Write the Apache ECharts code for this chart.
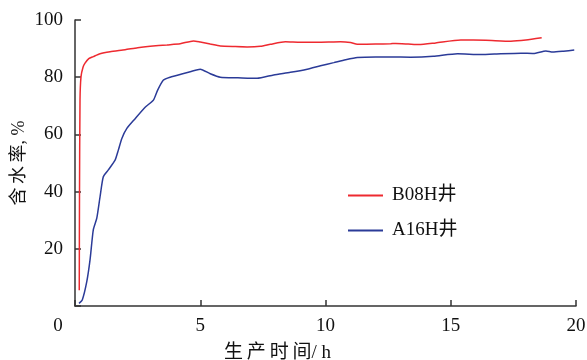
<!DOCTYPE html>
<html>
<head>
<meta charset="utf-8">
<script src="https://cdn.jsdelivr.net/npm/echarts@6/dist/echarts.min.js"></script>
<style>
  html, body { margin: 0; padding: 0; background: #fff; }
  #chart { width: 587px; height: 360px; }
</style>
</head>
<body>
<div id="chart"></div>
<script>
// Water cut vs production time for two wells
const seriesNames = ['B08H井', 'A16H井'];

const b08hTime = [0.17, 0.18, 0.2, 0.24, 0.32, 0.4, 0.55, 0.73, 1.0, 1.4, 2.0, 2.5, 3.0, 3.67, 4.2, 4.73, 5.0, 5.4, 5.8, 6.4, 6.87, 7.4, 7.8, 8.4, 9.0, 9.67, 10.2, 10.6, 11.0, 11.27, 12.0, 12.6, 12.8, 13.3, 13.73, 14.4, 15.4, 16.4, 17.4, 18.0, 18.63];
const b08hCut = [5.5, 40, 72, 80.2, 83.5, 84.9, 86.5, 87.2, 88.2, 88.9, 89.6, 90.3, 90.8, 91.3, 91.7, 92.7, 92.3, 91.6, 90.9, 90.7, 90.6, 90.8, 91.5, 92.4, 92.2, 92.2, 92.3, 92.4, 92.1, 91.5, 91.6, 91.7, 91.8, 91.6, 91.4, 92.0, 93.0, 92.9, 92.6, 93.0, 93.8];

const a16hTime = [0.16, 0.29, 0.47, 0.6, 0.73, 0.87, 1.0, 1.13, 1.33, 1.6, 1.73, 1.87, 2.07, 2.4, 2.8, 3.13, 3.3, 3.53, 3.8, 4.3, 4.6, 5.0, 5.4, 5.8, 6.5, 7.27, 7.93, 8.6, 9.27, 9.8, 10.33, 10.8, 11.27, 12.0, 12.6, 13.4, 14.3, 15.27, 16.2, 17.0, 17.8, 18.3, 18.8, 19.07, 19.5, 19.93];
const a16hCut = [0.9, 2.1, 8.5, 16.1, 26.6, 30.7, 38.2, 45.2, 47.6, 51.0, 54.5, 58.6, 62.1, 65.5, 69.5, 72.0, 75.5, 79.0, 80.0, 81.2, 81.9, 82.8, 81.2, 80.0, 79.8, 79.6, 80.8, 81.7, 82.8, 84.0, 85.1, 86.1, 86.9, 87.1, 87.1, 87.0, 87.3, 88.2, 87.9, 88.2, 88.4, 88.3, 89.2, 88.8, 89.1, 89.5];

const xTicks = [0, 5, 10, 15, 20];
const yTicks = [0, 20, 40, 60, 80, 100];

// axis titles, spaced out with thin spaces
const xTitle = '生\u2009产\u2009时\u2009间/ h';
const yTitle = '含\u2009水\u2009率, %';

const serif = '"Liberation Serif", "Times New Roman", "Noto Sans CJK SC", serif';
const axisColor = '#333';
const textColor = '#111';

function pairs(xs, ys) {
  return xs.map((x, i) => [x, ys[i]]);
}

const chart = echarts.init(document.getElementById('chart'), null, { renderer: 'canvas' });

chart.setOption({
  animation: false,
  backgroundColor: '#fff',
  grid: { left: 75, right: 11, top: 20, bottom: 54, containLabel: false, outerBoundsMode: 'none' },
  legend: {
    orient: 'vertical',
    left: 343,
    top: 181,
    itemWidth: 35,
    itemHeight: 2,
    itemGap: 16,
    icon: 'rect',
    textStyle: { fontFamily: serif, fontSize: 19, color: textColor, padding: [0, 0, 0, 4] },
    data: seriesNames
  },
  xAxis: {
    type: 'value',
    min: xTicks[0],
    max: xTicks[xTicks.length - 1],
    interval: 5,
    name: xTitle,
    nameLocation: 'middle',
    nameMoveOverlap: false,
    nameGap: 38,
    nameTextStyle: { fontFamily: serif, fontSize: 19, color: textColor, padding: [0, 96, 0, 0] },
    splitLine: { show: false },
    axisLine: { lineStyle: { color: axisColor, width: 1.5 } },
    axisTick: { inside: true, length: 6, lineStyle: { color: axisColor, width: 1.5 } },
    axisLabel: {
      margin: 11,
      fontFamily: serif,
      fontSize: 19,
      color: textColor,
      formatter: v => (v === 0 ? '{o|0}' : String(v)),
      rich: { o: { fontFamily: serif, fontSize: 19, color: textColor, padding: [0, 34, 0, 0] } }
    }
  },
  yAxis: {
    type: 'value',
    min: yTicks[0],
    max: yTicks[yTicks.length - 1],
    interval: 20,
    name: yTitle,
    nameLocation: 'middle',
    nameMoveOverlap: false,
    nameGap: 47,
    nameRotate: 90,
    nameTextStyle: { fontFamily: serif, fontSize: 18, color: textColor },
    splitLine: { show: false },
    axisLine: { show: true, lineStyle: { color: axisColor, width: 1.5 } },
    axisTick: { show: true, inside: true, length: 6, lineStyle: { color: axisColor, width: 1.5 } },
    axisLabel: {
      margin: 12,
      fontFamily: serif,
      fontSize: 19,
      color: textColor,
      formatter: v => (v === 0 ? '' : String(v))
    }
  },
  series: [
    {
      name: seriesNames[0],
      type: 'line',
      data: pairs(b08hTime, b08hCut),
      showSymbol: false,
      symbol: 'none',
      smooth: 0.2,
      color: '#ee2a30',
      lineStyle: { color: '#ee2a30', width: 1.5 }
    },
    {
      name: seriesNames[1],
      type: 'line',
      data: pairs(a16hTime, a16hCut),
      showSymbol: false,
      symbol: 'none',
      smooth: 0.2,
      color: '#2b3b98',
      lineStyle: { color: '#2b3b98', width: 1.5 }
    }
  ]
});
</script>
</body>
</html>
